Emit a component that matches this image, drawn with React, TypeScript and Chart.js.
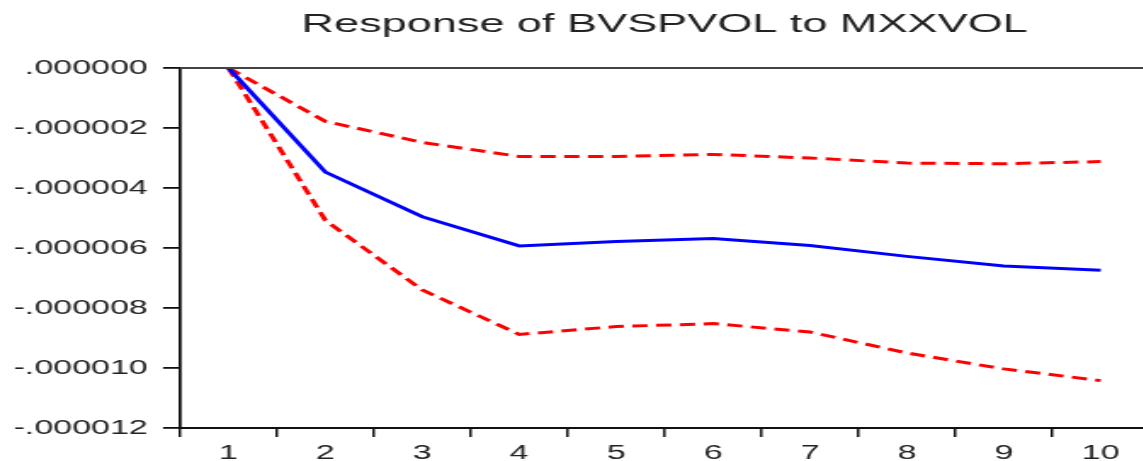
import { useEffect, useRef } from "react";
import { Chart, registerables } from "chart.js";

Chart.register(...registerables);

const titleText = "Response of BVSPVOL to MXXVOL";
const categories = ["1", "2", "3", "4", "5", "6", "7", "8", "9", "10"];
const response = [0, -3.47e-6, -4.96e-6, -5.93e-6, -5.78e-6, -5.68e-6, -5.92e-6, -6.28e-6, -6.6e-6, -6.74e-6];
const upperBand = [0, -1.78e-6, -2.48e-6, -2.95e-6, -2.95e-6, -2.88e-6, -3.0e-6, -3.17e-6, -3.19e-6, -3.12e-6];
const lowerBand = [0, -5.08e-6, -7.4e-6, -8.88e-6, -8.62e-6, -8.52e-6, -8.8e-6, -9.5e-6, -10.03e-6, -10.42e-6];
const yTickValues = [-12e-6, -10e-6, -8e-6, -6e-6, -4e-6, -2e-6, 0];
const yTickLabels = ["-.000012", "-.000010", "-.000008", "-.000006", "-.000004", "-.000002", ".000000"];

const FONT = "'Liberation Sans', Arial, Helvetica, sans-serif";
const STRETCH = 1.7;
const CANVAS_W = 690;
const CANVAS_H = 461;

export default function App() {
  const ref = useRef<HTMLCanvasElement | null>(null);

  useEffect(() => {
    const prevMargin = document.body.style.margin;
    document.body.style.margin = "0";
    const canvas = ref.current;
    if (!canvas) return;

    const topFrame = {
      id: "topFrame",
      afterDraw(chart: any) {
        const { ctx, chartArea } = chart;
        ctx.save();
        ctx.strokeStyle = "#444";
        ctx.lineWidth = 1.8;
        ctx.beginPath();
        ctx.moveTo(chartArea.left, chartArea.top);
        ctx.lineTo(chartArea.right, chartArea.top);
        ctx.lineTo(chartArea.right, chartArea.bottom);
        ctx.stroke();
        ctx.restore();
      },
    };

    const chart = new Chart(canvas, {
      type: "line",
      data: {
        labels: categories,
        datasets: [
          {
            data: response,
            borderColor: "#0000ff",
            borderWidth: 3,
            pointRadius: 0,
            tension: 0,
            fill: false,
          },
          {
            data: upperBand,
            borderColor: "#ff0000",
            borderWidth: 3,
            borderDash: [9, 5],
            pointRadius: 0,
            tension: 0,
            fill: false,
          },
          {
            data: lowerBand,
            borderColor: "#ff0000",
            borderWidth: 3,
            borderDash: [9, 5],
            pointRadius: 0,
            tension: 0,
            fill: false,
          },
        ],
      },
      options: {
        animation: false,
        responsive: false,
        devicePixelRatio: 1,
        layout: { padding: { left: 0, right: 14, top: 0, bottom: 0 } },
        plugins: {
          legend: { display: false },
          tooltip: { enabled: false },
          title: {
            display: true,
            text: titleText,
            fullSize: false,
            color: "#222",
            font: { family: FONT, size: 26.5, weight: "normal" },
            padding: { top: 9, bottom: 27.2 },
          },
        },
        scales: {
          x: {
            type: "category",
            offset: true,
            grid: {
              offset: true,
              drawOnChartArea: false,
              drawTicks: true,
              tickLength: 9,
              color: "#111",
              lineWidth: 1.5,
            },
            border: { display: true, color: "#111", width: 2 },
            ticks: {
              color: "#222",
              font: { family: FONT, size: 20 },
              padding: 4,
              maxRotation: 0,
              autoSkip: false,
            },
            afterFit: (s: any) => {
              s.height = 33;
            },
          },
          y: {
            type: "linear",
            min: -12e-6,
            max: 0,
            grid: {
              drawOnChartArea: false,
              drawTicks: true,
              tickLength: 10,
              color: "#111",
              lineWidth: 1.8,
            },
            border: { display: true, color: "#111", width: 1.8 },
            ticks: {
              color: "#222",
              font: { family: FONT, size: 20 },
              padding: 9,
              autoSkip: false,
              callback: (_v: any, i: number) => yTickLabels[i],
            },
            afterBuildTicks: (s: any) => {
              s.ticks = yTickValues.map((v) => ({ value: v }));
            },
            afterFit: (s: any) => {
              s.width = 105.9;
            },
          },
        },
      },
      plugins: [topFrame],
    });

    return () => {
      chart.destroy();
      document.body.style.margin = prevMargin;
    };
  }, []);

  return (
    <div style={{ width: "1143px", height: "461px", overflow: "hidden", background: "#fff" }}>
      <canvas
        ref={ref}
        width={CANVAS_W}
        height={CANVAS_H}
        style={{ width: `${CANVAS_W * STRETCH}px`, height: `${CANVAS_H}px`, display: "block" }}
      />
    </div>
  );
}
